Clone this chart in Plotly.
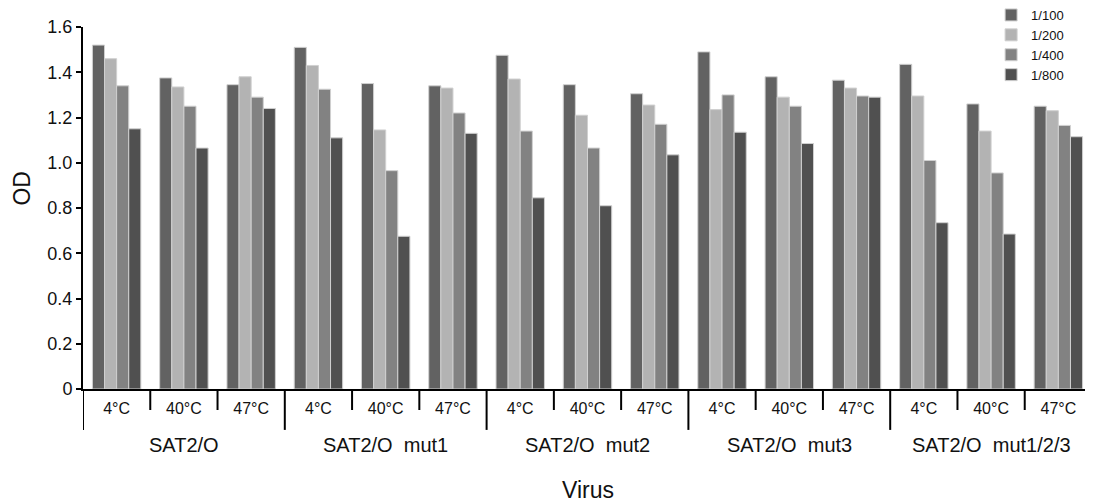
import plotly.graph_objects as go

groups = ["SAT2/O", "SAT2/O  mut1", "SAT2/O  mut2", "SAT2/O  mut3", "SAT2/O  mut1/2/3"]
temps = ["4°C", "40°C", "47°C"]
dilutions = ["1/100", "1/200", "1/400", "1/800"]

od_1_100 = [1.52, 1.375, 1.345, 1.51, 1.35, 1.34, 1.475, 1.345, 1.305, 1.49, 1.38, 1.365, 1.435, 1.26, 1.25]
od_1_200 = [1.46, 1.335, 1.38, 1.43, 1.145, 1.33, 1.37, 1.21, 1.255, 1.235, 1.29, 1.33, 1.295, 1.14, 1.23]
od_1_400 = [1.34, 1.25, 1.29, 1.325, 0.965, 1.22, 1.14, 1.065, 1.17, 1.30, 1.25, 1.295, 1.01, 0.955, 1.165]
od_1_800 = [1.15, 1.065, 1.24, 1.11, 0.675, 1.13, 0.845, 0.81, 1.035, 1.135, 1.085, 1.29, 0.735, 0.685, 1.115]

y_ticks = [0, 0.2, 0.4, 0.6, 0.8, 1.0, 1.2, 1.4, 1.6]
y_tick_labels = ["0", "0.2", "0.4", "0.6", "0.8", "1.0", "1.2", "1.4", "1.6"]

colors = ["#626262", "#b3b3b3", "#828282", "#505050"]
series = [od_1_100, od_1_200, od_1_400, od_1_800]

n_cat = len(groups) * len(temps)
x_idx = list(range(n_cat))
cat_labels = [t for g in groups for t in temps]

FONT = "Liberation Sans, Arial, sans-serif"
TXT = "#111111"

fig = go.Figure()
for name, vals, col in zip(dilutions, series, colors):
    fig.add_trace(go.Bar(
        x=x_idx, y=vals, name=name,
        marker=dict(color=col, line=dict(color="#d0d0d0", width=1)),
    ))

shapes = []
annotations = []
# boundary ticks between categories (short) and between groups (long)
for i in range(n_cat + 1):
    b = i - 0.5
    is_group = (i % len(temps) == 0)
    shapes.append(dict(type="line", xref="x", yref="paper", x0=b, x1=b, y0=0,
                       y1=-0.113 if is_group else -0.058,
                       line=dict(color="black", width=2)))
for gi, g in enumerate(groups):
    annotations.append(dict(x=gi * len(temps) + (len(temps) - 1) / 2, y=-0.155, xref="x", yref="paper",
                            text=g, showarrow=False, yanchor="middle", xanchor="center",
                            font=dict(size=20, color=TXT, family=FONT)))

annotations.append(dict(x=0.5, y=-0.278, xref="paper", yref="paper", text="Virus", showarrow=False,
                        yanchor="middle", xanchor="center", font=dict(size=23, color=TXT, family=FONT)))
annotations.append(dict(x=-0.06, y=0.555, xref="paper", yref="paper", text="OD", showarrow=False,
                        textangle=-90, yanchor="middle", xanchor="center",
                        font=dict(size=23, color=TXT, family=FONT)))

fig.update_layout(
    width=1085, height=495,
    margin=dict(l=75, r=1, t=19, b=114, autoexpand=False),
    paper_bgcolor="white", plot_bgcolor="white",
    barmode="group", bargap=0.28, bargroupgap=0,
    font=dict(family=FONT, color=TXT),
    shapes=shapes, annotations=annotations,
    legend=dict(x=0.9, y=1.0746, xanchor="left", yanchor="top", bgcolor="rgba(0,0,0,0)",
                font=dict(size=13, family=FONT, color=TXT), tracegroupgap=0, itemwidth=30),
    xaxis=dict(
        tickmode="array", tickvals=x_idx, ticktext=cat_labels,
        range=[-0.5, n_cat - 0.5],
        showline=True, linecolor="black", linewidth=2,
        ticks="outside", ticklen=20, tickwidth=1, tickcolor="rgba(0,0,0,0)",
        ticklabelstandoff=-16,
        tickfont=dict(size=16, family=FONT, color=TXT),
        showgrid=False, zeroline=False,
    ),
    yaxis=dict(
        range=[0, 1.6], tickmode="array", tickvals=y_ticks, ticktext=y_tick_labels,
        showline=True, linecolor="black", linewidth=2,
        ticks="outside", ticklen=5, tickwidth=2, tickcolor="black",
        tickfont=dict(size=18, family=FONT, color=TXT),
        showgrid=False, zeroline=False,
    ),
)

fig.write_html("out.html")
